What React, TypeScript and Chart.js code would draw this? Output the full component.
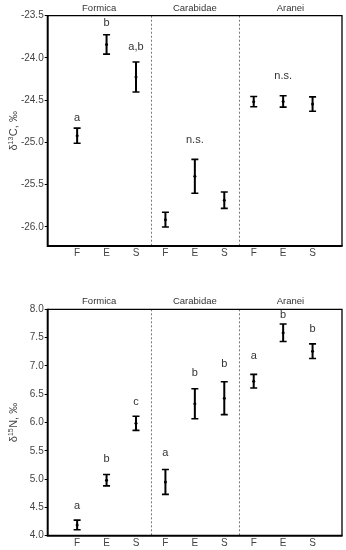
import React, { useEffect, useRef } from "react";
import { Chart, registerables } from "chart.js";
Chart.register(...registerables);

const groups = ["Formica", "Carabidae", "Aranei"];
const groupRanges = [[0, 3.5], [3.5, 6.5], [6.5, 10]];
const dividers = [3.5, 6.5];
const treatments = ["F", "E", "S", "F", "E", "S", "F", "E", "S"];
const xPos = [1, 2, 3, 4, 5, 6, 7, 8, 9];

const carbonMean = [-24.92, -23.84, -24.225, -25.913, -25.4, -25.683, -24.517, -24.515, -24.545];
const carbonErr = [0.09, 0.115, 0.178, 0.087, 0.2, 0.097, 0.061, 0.067, 0.085];
const carbonLabels = ["a", "b", "a,b", "", "n.s.", "", "", "n.s.", ""];
const carbonLabelY = [-24.71, -23.59, -23.866, 0, -24.97, 0, 0, -24.21, 0];
const carbonTicks = [-26.0, -25.5, -25.0, -24.5, -24.0, -23.5];

const nitroMean = [4.19, 4.98, 5.985, 4.95, 6.33, 6.43, 6.73, 7.585, 7.26];
const nitroErr = [0.085, 0.1, 0.125, 0.22, 0.265, 0.29, 0.12, 0.155, 0.13];
const nitroLabels = ["a", "b", "c", "a", "b", "b", "a", "b", "b"];
const nitroLabelY = [4.52, 5.35, 6.36, 5.47, 6.88, 7.03, 7.18, 7.9, 7.65];
const nitroTicks = [4.0, 4.5, 5.0, 5.5, 6.0, 6.5, 7.0, 7.5, 8.0];

const FONT = "'Liberation Sans', Arial, sans-serif";

type Cfg = {
  mean: number[];
  err: number[];
  labels: string[];
  labelY: number[];
  ticks: number[];
  min: number;
  max: number;
  padTop: number;
  xAxisH: number;
  xPad: number;
  element: string;
  isotope: string;
};

function buildChart(canvas: HTMLCanvasElement, o: Cfg) {
  const plugin = {
    id: "isoDecor",
    beforeDatasetsDraw(chart: any) {
      const ctx = chart.ctx;
      const a = chart.chartArea;
      const xs = chart.scales.x;
      ctx.save();
      ctx.strokeStyle = "#777";
      ctx.lineWidth = 1;
      ctx.setLineDash([2, 2]);
      dividers.forEach((d) => {
        const px = Math.round(xs.getPixelForValue(d)) + 0.5;
        ctx.beginPath();
        ctx.moveTo(px, a.top);
        ctx.lineTo(px, a.bottom);
        ctx.stroke();
      });
      ctx.restore();
    },
    afterDatasetsDraw(chart: any) {
      const ctx = chart.ctx;
      const a = chart.chartArea;
      const xs = chart.scales.x;
      const ys = chart.scales.y;
      ctx.save();
      // error bars
      ctx.strokeStyle = "#000";
      xPos.forEach((x, i) => {
        const px = xs.getPixelForValue(x);
        const top = ys.getPixelForValue(o.mean[i] + o.err[i]);
        const bot = ys.getPixelForValue(o.mean[i] - o.err[i]);
        ctx.lineWidth = 2;
        ctx.beginPath();
        ctx.moveTo(px, top);
        ctx.lineTo(px, bot);
        ctx.stroke();
        ctx.lineWidth = 1.6;
        ctx.beginPath();
        ctx.moveTo(px - 3.5, top);
        ctx.lineTo(px + 3.5, top);
        ctx.moveTo(px - 3.5, bot);
        ctx.lineTo(px + 3.5, bot);
        ctx.stroke();
      });
      // significance labels
      ctx.fillStyle = "#333";
      ctx.font = `11px ${FONT}`;
      ctx.textAlign = "center";
      ctx.textBaseline = "middle";
      xPos.forEach((x, i) => {
        if (!o.labels[i]) return;
        ctx.fillText(o.labels[i], xs.getPixelForValue(x), ys.getPixelForValue(o.labelY[i]));
      });
      // group labels
      ctx.font = `9.5px ${FONT}`;
      ctx.fillStyle = "#333";
      groups.forEach((g, i) => {
        const cx = (xs.getPixelForValue(groupRanges[i][0]) + xs.getPixelForValue(groupRanges[i][1])) / 2;
        ctx.fillText(g, cx, a.top - 7.5);
      });
      // box
      ctx.strokeStyle = "#000";
      ctx.lineWidth = 1.3;
      ctx.beginPath();
      ctx.moveTo(a.left, a.top);
      ctx.lineTo(a.right, a.top);
      ctx.lineTo(a.right, a.bottom);
      ctx.stroke();
      ctx.lineWidth = 2;
      ctx.beginPath();
      ctx.moveTo(a.left, a.top - 0.6);
      ctx.lineTo(a.left, a.bottom);
      ctx.lineTo(a.right + 0.6, a.bottom);
      ctx.stroke();
      // y title
      const cy = (a.top + a.bottom) / 2;
      ctx.translate(13, cy);
      ctx.rotate(-Math.PI / 2);
      ctx.fillStyle = "#444";
      ctx.textAlign = "left";
      ctx.textBaseline = "alphabetic";
      const big = `11px ${FONT}`;
      const small = `7px ${FONT}`;
      const rest = `${o.element}, ‰`;
      ctx.font = big;
      const w1 = ctx.measureText("δ").width;
      const w3 = ctx.measureText(rest).width;
      ctx.font = small;
      const w2 = ctx.measureText(o.isotope).width + 0.5;
      let sx = -(w1 + w2 + w3) / 2;
      ctx.font = big;
      ctx.fillText("δ", sx, 4);
      sx += w1;
      ctx.font = small;
      ctx.fillText(o.isotope, sx, -0.5);
      sx += w2;
      ctx.font = big;
      ctx.fillText(rest, sx, 4);
      ctx.restore();
    },
  };

  return new Chart(canvas, {
    type: "scatter",
    data: {
      datasets: [
        {
          data: xPos.map((x, i) => ({ x, y: o.mean[i] })),
          pointRadius: 1.5,
          pointBackgroundColor: "#000",
          pointBorderWidth: 0,
          showLine: false,
        },
      ],
    },
    options: {
      animation: false,
      responsive: false,
      devicePixelRatio: 1,
      layout: { padding: { top: o.padTop, right: 3.3, bottom: 0, left: 0 } },
      plugins: { legend: { display: false }, tooltip: { enabled: false } },
      scales: {
        x: {
          type: "linear",
          min: 0,
          max: 10,
          afterBuildTicks: (s: any) => {
            s.ticks = xPos.map((v) => ({ value: v }));
          },
          afterFit: (s: any) => {
            s.height = o.xAxisH;
          },
          ticks: {
            callback: (v: any) => treatments[Number(v) - 1] ?? "",
            font: { size: 10, family: FONT },
            color: "#444",
            padding: o.xPad,
            autoSkip: false,
            maxRotation: 0,
          },
          grid: { display: false, drawTicks: false, tickLength: 0 },
          border: { display: false },
        },
        y: {
          type: "linear",
          min: o.min,
          max: o.max,
          afterBuildTicks: (s: any) => {
            s.ticks = o.ticks.map((v) => ({ value: v }));
          },
          afterFit: (s: any) => {
            s.width = 47.7;
          },
          ticks: {
            callback: (v: any) => Number(v).toFixed(1),
            font: { size: 10, family: FONT },
            color: "#444",
            padding: 1,
          },
          grid: { drawOnChartArea: false, drawTicks: true, tickLength: 3, color: "#000", lineWidth: 1 },
          border: { display: false },
        },
      },
    },
    plugins: [plugin],
  } as any);
}

export default function App() {
  const topRef = useRef<HTMLCanvasElement>(null);
  const botRef = useRef<HTMLCanvasElement>(null);
  useEffect(() => {
    const c1 = buildChart(topRef.current!, {
      mean: carbonMean,
      err: carbonErr,
      labels: carbonLabels,
      labelY: carbonLabelY,
      ticks: carbonTicks,
      min: -26.225,
      max: -23.5,
      padTop: 15.7,
      xAxisH: 24,
      xPad: 1,
      element: "C",
      isotope: "13",
    });
    const c2 = buildChart(botRef.current!, {
      mean: nitroMean,
      err: nitroErr,
      labels: nitroLabels,
      labelY: nitroLabelY,
      ticks: nitroTicks,
      min: 4,
      max: 8,
      padTop: 39.3,
      xAxisH: 14.3,
      xPad: 2,
      element: "N",
      isotope: "15",
    });
    return () => {
      c1.destroy();
      c2.destroy();
    };
  }, []);
  return (
    <div style={{ position: "absolute", left: 0, top: 0, width: 346, height: 550, background: "#fff" }}>
      <canvas ref={topRef} width={346} height={270} style={{ position: "absolute", left: 0, top: 0 }} />
      <canvas ref={botRef} width={346} height={280} style={{ position: "absolute", left: 0, top: 270 }} />
    </div>
  );
}
